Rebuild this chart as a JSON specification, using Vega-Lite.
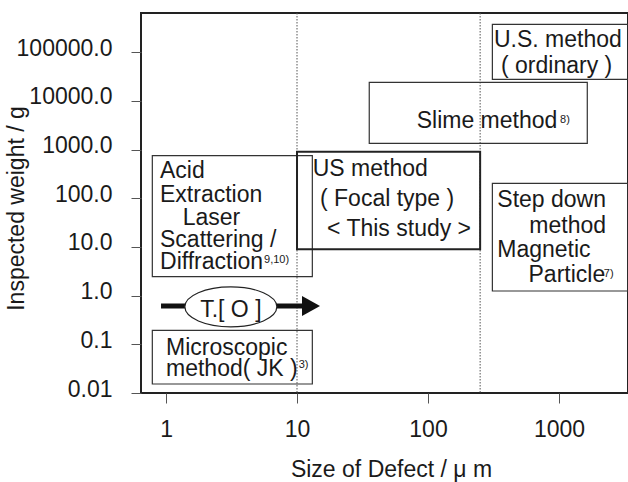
{
  "$schema": "https://vega.github.io/schema/vega-lite/v6.json",
  "width": 487,
  "height": 380,
  "autosize": {"type": "none"},
  "padding": {"left": 141, "top": 13, "right": 0, "bottom": 89},
  "background": "white",
  "config": {
    "font": "Liberation Sans",
    "view": {"stroke": "#222", "strokeWidth": 2},
    "axis": {"grid": false, "domain": false, "tickColor": "#555", "tickWidth": 1, "tickSize": 10, "labelFont": "Liberation Sans", "titleFont": "Liberation Sans", "labelFontSize": 23, "titleFontSize": 23, "labelColor": "#1a1a1a", "titleColor": "#1a1a1a", "titleFontWeight": "normal"}
  },
  "datasets": {
    "boxes": [
      {"name": "acid", "x": 0.786, "x2": 13.09, "y": 751, "y2": 2.453},
      {"name": "micro", "x": 0.786, "x2": 13.09, "y": 0.1942, "y2": 0.01531},
      {"name": "us", "x": 10, "x2": 250, "y": 907.8, "y2": 8.966},
      {"name": "slime", "x": 35.6, "x2": 1644, "y": 24200, "y2": 1351},
      {"name": "usord", "x": 310, "x2": 3363, "y": 376300, "y2": 27880},
      {"name": "step", "x": 310, "x2": 3363, "y": 203.5, "y2": 1.246}
    ],
    "vlines": [{"x": 10}, {"x": 250}],
    "labels": [
      {"t": "Acid", "x": 0.9, "y": 261.5},
      {"t": "Extraction", "x": 0.9, "y": 85.2},
      {"t": "Laser", "x": 1.341, "y": 28.3},
      {"t": "Scattering /", "x": 0.9, "y": 10.14},
      {"t": "Diffraction", "x": 0.9, "y": 3.48},
      {"t": "Microscopic", "x": 1.0, "y": 0.0604},
      {"t": "method( JK )", "x": 1.0, "y": 0.02235},
      {"t": "US method", "x": 13.18, "y": 287.5},
      {"t": "( Focal type )", "x": 14.98, "y": 69.5},
      {"t": "< This study >", "x": 16.94, "y": 16.82},
      {"t": "Slime method", "x": 82.0, "y": 2747},
      {"t": "U.S. method", "x": 319, "y": 126770},
      {"t": "( ordinary )", "x": 360.8, "y": 38110},
      {"t": "Step down", "x": 338, "y": 67.25},
      {"t": "method", "x": 593.5, "y": 19.39},
      {"t": "Magnetic", "x": 338, "y": 6.23},
      {"t": "Particle", "x": 585, "y": 1.935}
    ],
    "sups": [
      {"t": "9,10)", "x": 5.6, "y": 4.69},
      {"t": "3)", "x": 10.3, "y": 0.0326},
      {"t": "8)", "x": 1018, "y": 3528},
      {"t": "7)", "x": 2200, "y": 2.45}
    ],
    "arrow": [{"x": 0.916, "x2": 11.11, "y": 0.6133}],
    "head": [{"x": 12.79, "y": 0.6133}],
    "oval": [{"x": 3.126, "y": 0.589, "t": "T.[ O ]", "ty": 0.3696}]
  },
  "encoding": {
    "x": {"type": "quantitative", "scale": {"type": "log", "domain": [0.6442, 3363], "nice": false}},
    "y": {"type": "quantitative", "scale": {"type": "log", "domain": [0.01, 642400], "nice": false}}
  },
  "layer": [
    {
      "data": {"name": "vlines"},
      "mark": {"type": "rule", "color": "#555", "strokeWidth": 1, "strokeDash": [1.5, 1.5]},
      "encoding": {
        "x": {"field": "x", "type": "quantitative",
          "axis": {"values": [1, 10, 100, 1000], "format": "d", "labelPadding": 15, "title": "Size of Defect /  μ m", "titleBaseline": "alphabetic", "titleX": 250, "titleY": 83.5}}
      }
    },
    {
      "data": {"name": "boxes"},
      "transform": [{"filter": "datum.name != 'us'"}],
      "mark": {"type": "rect", "fill": null, "fillOpacity": 0, "stroke": "#333", "strokeWidth": 1.2},
      "encoding": {
        "x": {"field": "x", "type": "quantitative"},
        "x2": {"field": "x2"},
        "y": {"field": "y", "type": "quantitative",
          "axis": {"values": [0.01, 0.1, 1, 10, 100, 1000, 10000, 100000], "labelExpr": "datum.value < 0.05 ? '0.01' : format(datum.value, '.1f')", "labelPadding": 19, "labelOffset": -4, "labelBaseline": "middle", "title": "Inspected weight / g", "titleAngle": 270, "titleBaseline": "bottom", "titleAlign": "center", "titleX": -113, "titleY": 195}},
        "y2": {"field": "y2"}
      }
    },
    {
      "data": {"name": "boxes"},
      "transform": [{"filter": "datum.name == 'us'"}],
      "mark": {"type": "rect", "fill": null, "fillOpacity": 0, "stroke": "#222", "strokeWidth": 2},
      "encoding": {
        "x": {"field": "x", "type": "quantitative"},
        "x2": {"field": "x2"},
        "y": {"field": "y", "type": "quantitative"},
        "y2": {"field": "y2"}
      }
    },
    {
      "data": {"name": "arrow"},
      "mark": {"type": "rule", "color": "#111", "strokeWidth": 5},
      "encoding": {
        "x": {"field": "x", "type": "quantitative"},
        "x2": {"field": "x2"},
        "y": {"field": "y", "type": "quantitative"}
      }
    },
    {
      "data": {"name": "head"},
      "mark": {"type": "point", "shape": "M -1 -1.1 L 1 0 L -1 1.1 Z", "size": 324, "filled": true, "color": "#111", "opacity": 1},
      "encoding": {
        "x": {"field": "x", "type": "quantitative"},
        "y": {"field": "y", "type": "quantitative"}
      }
    },
    {
      "data": {"name": "oval"},
      "mark": {"type": "point", "shape": "M -1 0 C -1 -0.24 -0.552 -0.435 0 -0.435 C 0.552 -0.435 1 -0.24 1 0 C 1 0.24 0.552 0.435 0 0.435 C -0.552 0.435 -1 0.24 -1 0 Z", "size": 8464, "filled": false, "fill": "white", "fillOpacity": 1, "stroke": "#222", "strokeWidth": 1.2, "opacity": 1},
      "encoding": {
        "x": {"field": "x", "type": "quantitative"},
        "y": {"field": "y", "type": "quantitative"}
      }
    },
    {
      "data": {"name": "oval"},
      "mark": {"type": "text", "fontSize": 23, "align": "center", "baseline": "alphabetic", "color": "#1a1a1a"},
      "encoding": {
        "x": {"field": "x", "type": "quantitative"},
        "y": {"field": "ty", "type": "quantitative"},
        "text": {"field": "t"}
      }
    },
    {
      "data": {"name": "labels"},
      "mark": {"type": "text", "fontSize": 23, "align": "left", "baseline": "alphabetic", "color": "#1a1a1a"},
      "encoding": {
        "x": {"field": "x", "type": "quantitative"},
        "y": {"field": "y", "type": "quantitative"},
        "text": {"field": "t"}
      }
    },
    {
      "data": {"name": "sups"},
      "mark": {"type": "text", "fontSize": 11, "align": "left", "baseline": "alphabetic", "color": "#1a1a1a"},
      "encoding": {
        "x": {"field": "x", "type": "quantitative"},
        "y": {"field": "y", "type": "quantitative"},
        "text": {"field": "t"}
      }
    }
  ]
}
